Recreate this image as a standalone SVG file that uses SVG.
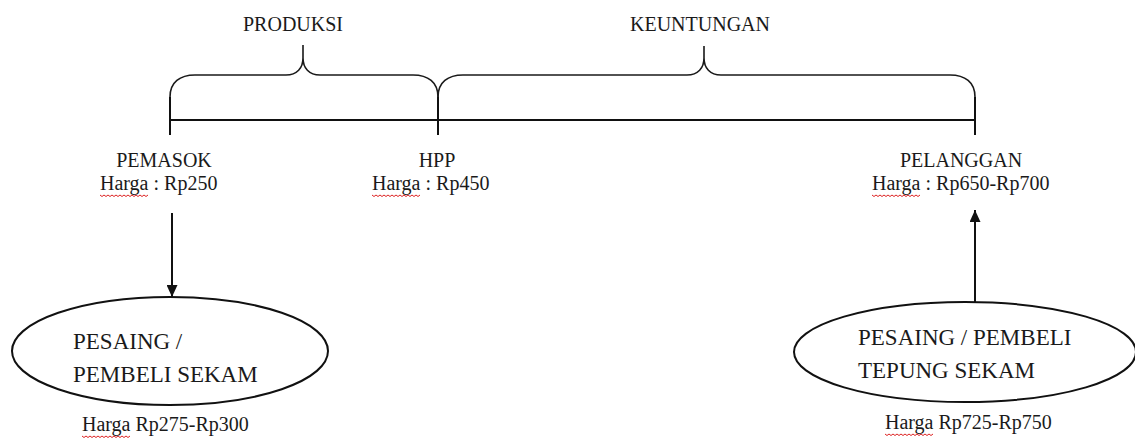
<svg xmlns="http://www.w3.org/2000/svg" width="1135" height="441" viewBox="0 0 1135 441">
<style>
text{font-family:"Liberation Serif","Times New Roman",serif;fill:#1a1a1a}
.lbl{font-size:20px}
.ell{font-size:23px}
.ln{stroke:#111;stroke-width:2;fill:none}
.br{stroke:#1a1a1a;stroke-width:1.6;fill:none}
.node{stroke:#111;stroke-width:2;fill:#fff}
.sq{stroke:#d22;stroke-width:1;fill:none}
</style>
<defs>
<marker id="ah" markerUnits="userSpaceOnUse" markerWidth="12" markerHeight="11" refX="12" refY="5.5" orient="auto">
<path d="M0,0 L12,5.5 L0,11 z" fill="#111"/>
</marker>
</defs>
<rect width="1135" height="441" fill="#fff"/>
<g id="timeline">
<path class="ln" d="M170,120 H975"/>
<path class="ln" d="M170,97 V135 M438,97 V135 M975,97 V135"/>
</g>
<g id="produksi">
<path class="br" d="M170,97 C170,82 180,75 195,75 H286 C297,75 303,68 303,58 V45 M303,58 C303,68 309,75 320,75 H413 C428,75 438,82 438,97"/>
<text class="lbl" x="293" y="31" text-anchor="middle">PRODUKSI</text>
</g>
<g id="keuntungan">
<path class="br" d="M438,97 C438,82 448,75 463,75 H687 C698,75 704,68 704,58 V46 M704,58 C704,68 710,75 721,75 H950 C965,75 975,82 975,97"/>
<text class="lbl" x="700" y="31" text-anchor="middle">KEUNTUNGAN</text>
</g>
<g id="pemasok">
<text class="lbl" x="164" y="167" text-anchor="middle">PEMASOK</text>
<text class="lbl" x="100" y="190">Harga : Rp250</text>
<path class="sq" d="M100,195 l2,1.5 l2,-1.5 l2,1.5 l2,-1.5 l2,1.5 l2,-1.5 l2,1.5 l2,-1.5 l2,1.5 l2,-1.5 l2,1.5 l2,-1.5 l2,1.5 l2,-1.5 l2,1.5 l2,-1.5 l2,1.5 l2,-1.5 l2,1.5 l2,-1.5 l2,1.5 l2,-1.5 l2,1.5 l2,-1.5"/>
</g>
<g id="hpp">
<text class="lbl" x="437" y="167" text-anchor="middle">HPP</text>
<text class="lbl" x="372" y="190">Harga : Rp450</text>
<path class="sq" d="M372,195 l2,1.5 l2,-1.5 l2,1.5 l2,-1.5 l2,1.5 l2,-1.5 l2,1.5 l2,-1.5 l2,1.5 l2,-1.5 l2,1.5 l2,-1.5 l2,1.5 l2,-1.5 l2,1.5 l2,-1.5 l2,1.5 l2,-1.5 l2,1.5 l2,-1.5 l2,1.5 l2,-1.5 l2,1.5 l2,-1.5"/>
</g>
<g id="pelanggan">
<text class="lbl" x="961" y="167" text-anchor="middle">PELANGGAN</text>
<text class="lbl" x="872" y="190">Harga : Rp650-Rp700</text>
<path class="sq" d="M872,195 l2,1.5 l2,-1.5 l2,1.5 l2,-1.5 l2,1.5 l2,-1.5 l2,1.5 l2,-1.5 l2,1.5 l2,-1.5 l2,1.5 l2,-1.5 l2,1.5 l2,-1.5 l2,1.5 l2,-1.5 l2,1.5 l2,-1.5 l2,1.5 l2,-1.5 l2,1.5 l2,-1.5 l2,1.5 l2,-1.5"/>
</g>
<g id="connectors">
<path class="ln" d="M172,213 V297" marker-end="url(#ah)"/>
<path class="ln" d="M975,302 V210" marker-end="url(#ah)"/>
</g>
<g id="pesaing-sekam">
<ellipse class="node" cx="170" cy="351" rx="158" ry="54"/>
<text class="ell" x="73" y="349">PESAING /</text>
<text class="ell" x="73" y="382">PEMBELI SEKAM</text>
<text class="lbl" x="82" y="431">Harga Rp275-Rp300</text>
<path class="sq" d="M82,436 l2,1.5 l2,-1.5 l2,1.5 l2,-1.5 l2,1.5 l2,-1.5 l2,1.5 l2,-1.5 l2,1.5 l2,-1.5 l2,1.5 l2,-1.5 l2,1.5 l2,-1.5 l2,1.5 l2,-1.5 l2,1.5 l2,-1.5 l2,1.5 l2,-1.5 l2,1.5 l2,-1.5 l2,1.5 l2,-1.5"/>
</g>
<g id="pesaing-tepung">
<ellipse class="node" cx="965" cy="352" rx="171" ry="50"/>
<text class="ell" x="858" y="345">PESAING / PEMBELI</text>
<text class="ell" x="858" y="378">TEPUNG SEKAM</text>
<text class="lbl" x="885" y="429">Harga Rp725-Rp750</text>
<path class="sq" d="M885,434 l2,1.5 l2,-1.5 l2,1.5 l2,-1.5 l2,1.5 l2,-1.5 l2,1.5 l2,-1.5 l2,1.5 l2,-1.5 l2,1.5 l2,-1.5 l2,1.5 l2,-1.5 l2,1.5 l2,-1.5 l2,1.5 l2,-1.5 l2,1.5 l2,-1.5 l2,1.5 l2,-1.5 l2,1.5 l2,-1.5"/>
</g>
</svg>
